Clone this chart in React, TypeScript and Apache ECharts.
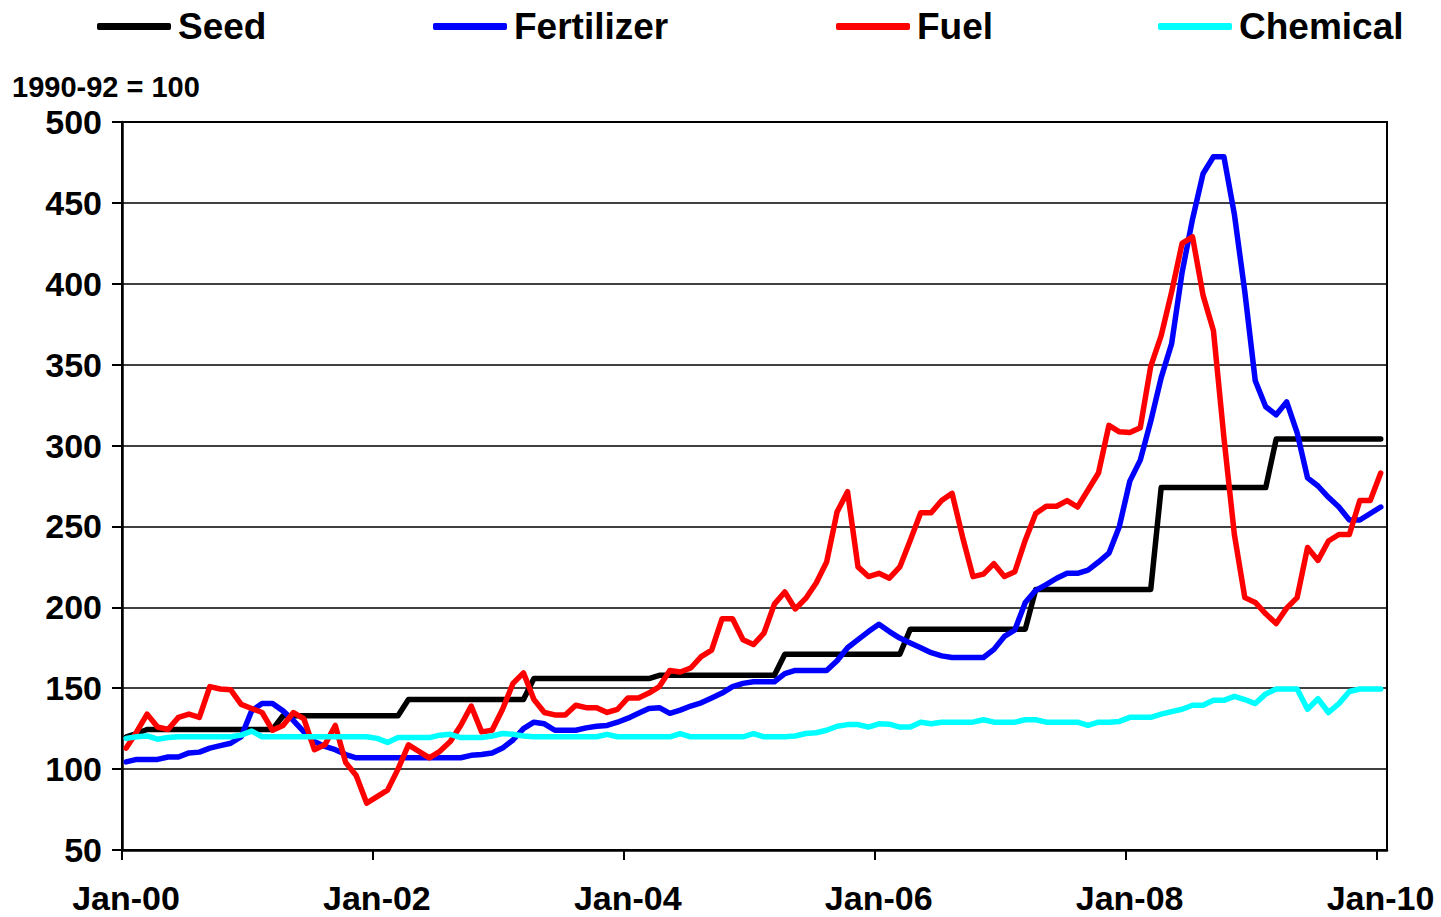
import React, { useEffect, useRef } from "react";
import * as echarts from "echarts";

// Series names
const seriesNames = ["Seed", "Fertilizer", "Fuel", "Chemical"];
const seriesColors = ["#000000", "#0000FF", "#FF0000", "#00FFFF"];

// X tick positions (months from Jan-2000) and labels
const xTickMonths = [0, 24, 48, 72, 96, 120];
const xTickLabels = ["Jan-00", "Jan-02", "Jan-04", "Jan-06", "Jan-08", "Jan-10"];

// Monthly index values, Jan-2000 .. Jan-2010 (121 months), 1990-92 = 100
const seed = [
  120, 122, 124.5, 124.5, 124.5, 124.5, 124.5, 124.5, 124.5, 124.5, 124.5, 124.5,
  124.5, 124.5, 124.5, 133, 133, 133, 133, 133, 133, 133, 133, 133,
  133, 133, 133, 143, 143, 143, 143, 143, 143, 143, 143, 143,
  143, 143, 143, 156, 156, 156, 156, 156, 156, 156, 156, 156,
  156, 156, 156, 158, 158, 158, 158, 158, 158, 158, 158, 158,
  158, 158, 158, 171, 171, 171, 171, 171, 171, 171, 171, 171,
  171, 171, 171, 186.5, 186.5, 186.5, 186.5, 186.5, 186.5, 186.5, 186.5, 186.5,
  186.5, 186.5, 186.5, 211, 211, 211, 211, 211, 211, 211, 211, 211,
  211, 211, 211, 274, 274, 274, 274, 274, 274, 274, 274, 274,
  274, 274, 304, 304, 304, 304, 304, 304, 304, 304, 304, 304,
  304,
];

const fertilizer = [
  104.5, 106, 106, 106, 107.5, 107.5, 110, 110.5, 113, 114.5, 116, 120,
  136, 140.5, 140.5, 136, 130, 123, 117, 114, 112, 109, 107, 107,
  107, 107, 107, 107, 107, 107, 107, 107, 107, 108.5, 109, 110,
  113, 118, 125, 129, 128, 124, 124, 124, 125.5, 126.5, 127, 129,
  131.5, 134.5, 137.5, 138, 134.5, 136.5, 139, 141, 144, 147, 151, 153,
  154, 154, 154, 159, 161, 161, 161, 161, 167, 175, 180, 185,
  189.5, 185, 181, 178, 175, 172, 170, 169, 169, 169, 169, 174,
  182, 186, 203, 210.5, 214, 218, 221, 221, 223, 228, 233.5, 250,
  278, 291, 315, 342, 363, 407, 440, 468, 478.5, 478.5, 443, 395,
  340, 324, 319, 327, 308, 280, 275, 268, 262, 254, 254, 258,
  262,
];

const fuel = [
  113, 123, 134, 126, 124.5, 132, 134, 132, 151, 149.5, 149, 140,
  137.5, 135, 124, 127, 135, 131, 112, 115, 127, 104, 96, 79,
  83, 87, 100, 115, 111, 107, 111, 117, 127, 139, 123, 124,
  137, 153, 159.5, 143, 135, 133.5, 133.5, 139.5, 138, 138, 135, 137,
  144, 144, 147, 151, 161, 160, 162.5, 169.5, 173.5, 193, 193, 180,
  177, 184, 202, 209.5, 199, 205.5, 215, 228, 259, 271.5, 225, 219,
  221, 218, 225, 241.5, 258.5, 258.5, 266, 270.5, 243.5, 219, 220.5, 227,
  219, 222, 241.5, 258, 262.5, 262.5, 266, 262, 272.5, 283, 312.5, 308.5,
  308, 311, 349, 368, 395, 425, 429, 393, 371, 305, 245, 206,
  203, 196, 190, 199.5, 206, 237, 229, 241, 245, 245, 266, 266,
  283,
];

const chemical = [
  119, 120, 120.5, 118.5, 119.5, 120, 120, 120, 120, 120, 120, 121,
  123.5, 120, 120, 120, 120, 120, 120, 120, 120, 120, 120, 120,
  119, 116.5, 119.5, 119.5, 119.5, 119.5, 121, 121.5, 119.5, 119.5, 119.5, 120.5,
  122, 121.5, 120.5, 120, 120, 120, 120, 120, 120, 120, 121.5, 120,
  120, 120, 120, 120, 120, 122, 120, 120, 120, 120, 120, 120,
  122, 120, 120, 120, 120.5, 122, 122.5, 124, 126.5, 127.5, 127.5, 126,
  128, 127.8, 126, 126, 129, 128, 129, 129, 129, 129, 130.5, 129,
  129, 129, 130.5, 130.5, 129, 129, 129, 129, 127, 129, 129, 129.5,
  132, 132, 132, 134, 135.5, 137, 139.5, 139.5, 142.5, 142.5, 145, 143,
  140.5, 146.5, 149.5, 149.5, 149.5, 137, 143.5, 135, 140.5, 148, 149.5, 149.5,
  149.5,
];

const allSeries = [seed, fertilizer, fuel, chemical];
const POINT_OFFSET = 0.4; // monthly observations sit mid-month on the date axis

// Left edges of the four legend entries
const legendLefts = [92, 428, 831, 1153];

const FONT = "'Liberation Sans', Arial, Helvetica, sans-serif";

export default function App() {
  const ref = useRef<HTMLDivElement>(null);

  useEffect(() => {
    if (!ref.current) return;
    const chart = echarts.init(ref.current, undefined, { renderer: "svg" });
    const option: any = {
      animation: false,
      backgroundColor: "#ffffff",
      textStyle: { fontFamily: FONT },
      legend: seriesNames.map((name, s) => ({
        left: legendLefts[s],
        top: 3,
        itemWidth: 74,
        itemHeight: 7,
        icon: "roundRect",
        selectedMode: false,
        textStyle: { fontSize: 37, fontWeight: "bold", color: "#000", fontFamily: FONT, padding: [0, 0, 0, 2] },
        data: [name],
      })),
      graphic: [
        {
          type: "text",
          left: 12,
          top: 72,
          style: {
            text: "1990-92 = 100",
            font: `bold 29px ${FONT}`,
            fill: "#000",
          },
        },
      ],
      grid: {
        left: 122,
        right: 54,
        top: 122,
        bottom: 67,
        show: true,
        borderColor: "#000",
        borderWidth: 2,
        backgroundColor: "transparent",
      },
      xAxis: {
        type: "value",
        min: 0,
        max: 121,
        interval: 24,
        axisLine: { show: true, onZero: false, lineStyle: { color: "#000", width: 2.5 } },
        axisTick: {
          show: true,
          length: 10,
          inside: false,
          customValues: xTickMonths,
          lineStyle: { color: "#000", width: 2 },
        },
        axisLabel: {
          customValues: xTickMonths,
          formatter: (v: number) => {
            const k = xTickMonths.indexOf(Math.round(v));
            return k >= 0 ? xTickLabels[k] : "";
          },
          fontSize: 34,
          fontWeight: "bold",
          color: "#000",
          fontFamily: FONT,
          margin: 31,
          padding: [0, 0, 0, 8],
        },
        splitLine: { show: false },
      },
      yAxis: {
        type: "value",
        min: 50,
        max: 500,
        interval: 50,
        axisLine: { show: true, lineStyle: { color: "#000", width: 2.5 } },
        axisTick: { show: true, length: 10, inside: false, lineStyle: { color: "#000", width: 2 } },
        axisLabel: {
          fontSize: 34,
          fontWeight: "bold",
          color: "#000",
          fontFamily: FONT,
          margin: 20,
        },
        splitLine: { show: true, lineStyle: { color: "#000", width: 1.5 } },
      },
      series: seriesNames.map((name, s) => ({
        name,
        type: "line",
        showSymbol: false,
        symbol: "none",
        color: seriesColors[s],
        itemStyle: { color: seriesColors[s] },
        lineStyle: { color: seriesColors[s], width: 5.5, cap: "round", join: "round" },
        data: allSeries[s].map((v, i) => [i + POINT_OFFSET, v]),
      })),
    };
    chart.setOption(option);
    return () => chart.dispose();
  }, []);

  return (
    <div
      ref={ref}
      style={{ position: "fixed", left: 0, top: 0, width: 1441, height: 917, background: "#fff" }}
    />
  );
}
